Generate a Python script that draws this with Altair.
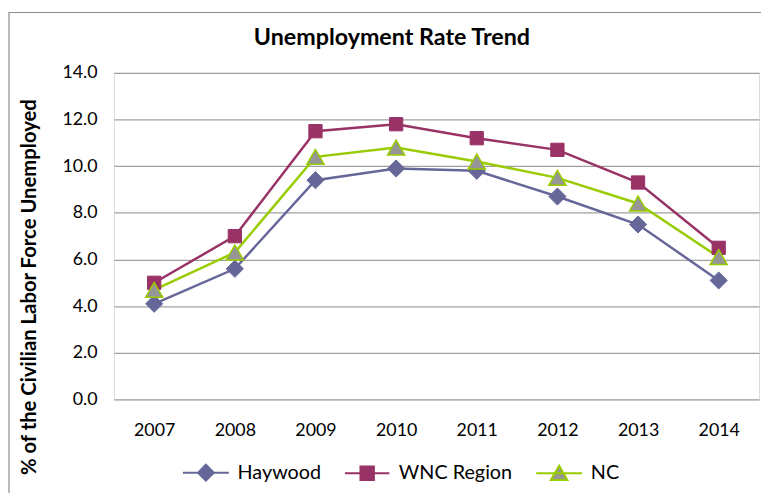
import altair as alt
import pandas as pd

years = ["2007", "2008", "2009", "2010", "2011", "2012", "2013", "2014"]
haywood = [4.1, 5.6, 9.4, 9.9, 9.8, 8.7, 7.5, 5.1]
wnc = [5.0, 7.0, 11.5, 11.8, 11.2, 10.7, 9.3, 6.5]
nc = [4.7, 6.3, 10.4, 10.8, 10.2, 9.5, 8.4, 6.1]
series_names = ["Haywood", "WNC Region", "NC"]
y_ticks = [0, 2, 4, 6, 8, 10, 12, 14]

line_colors = ["#666699", "#993366", "#99CC00"]
marker_fills = ["#666699", "#993366", "#969696"]
legend_paths = [
    "M-2.9,0H2.9M0,-1L1,0L0,1L-1,0Z",
    "M-2.8,0H2.8M-0.85,-0.85H0.85V0.85H-0.85Z",
    "M-2.9,0H2.9M0,-0.95L1.05,0.85L-1.05,0.85Z",
]

rows = []
for name, vals in zip(series_names, [haywood, wnc, nc]):
    for yr, v in zip(years, vals):
        rows.append({"year": yr, "series": name, "value": v})
df = pd.DataFrame(rows)

FONT = "Lato"

leg = alt.Legend(
    title=None, orient="none", legendX=83, legendY=394, direction="horizontal",
    labelFont=FONT, labelFontSize=20, labelColor="black", symbolSize=256,
    symbolStrokeWidth=2, symbolOpacity=1, symbolFillColor="#000000",
    labelOffset=22, columnPadding=19, padding=0,
)

x_enc = alt.X("year:O", sort=years, scale=alt.Scale(type="point", padding=0.5),
              axis=alt.Axis(labelAngle=0, domain=False, ticks=False, tickSize=0, grid=False,
                            labelPadding=22, labelFont=FONT, labelFontSize=18,
                            labelColor="black", title=None))
y_enc = alt.Y("value:Q", scale=alt.Scale(domain=[0, 14], nice=False),
              axis=alt.Axis(values=y_ticks, format=".1f", grid=True, gridColor="#a0a0a0",
                            gridWidth=1.2, domain=False, ticks=False, tickSize=0,
                            labelPadding=17, labelFont=FONT, labelFontSize=18,
                            labelColor="black",
                            title="% of the Civilian Labor Force Unemployed",
                            titleFont=FONT, titleFontSize=20.5, titleFontWeight="bold",
                            titleColor="black", titleAngle=270, titleAlign="center",
                            titleBaseline="middle", titleX=-85, titleY=216))

stroke_scale = alt.Scale(domain=series_names, range=line_colors)
fill_scale = alt.Scale(domain=series_names, range=marker_fills)
shape_scale = alt.Scale(domain=series_names, range=legend_paths)

base = alt.Chart(df)

lines = base.mark_line(strokeWidth=2.5).encode(
    x=x_enc, y=y_enc,
    stroke=alt.Stroke("series:N", scale=stroke_scale, legend=leg),
)

legend_carrier = base.mark_point(opacity=0, size=0).encode(
    x=x_enc, y=y_enc,
    stroke=alt.Stroke("series:N", scale=stroke_scale, legend=leg),
    fill=alt.Fill("series:N", scale=fill_scale, legend=leg),
    shape=alt.Shape("series:N", scale=shape_scale, legend=leg),
)

diamonds = base.mark_point(shape="diamond", filled=True, fill=marker_fills[0],
                           stroke=line_colors[0], strokeWidth=1, size=300, opacity=1).encode(
    x=x_enc, y=y_enc).transform_filter(alt.datum.series == series_names[0])
squares = base.mark_point(shape="square", filled=True, fill=marker_fills[1],
                          stroke=line_colors[1], strokeWidth=1, size=180, opacity=1).encode(
    x=x_enc, y=y_enc).transform_filter(alt.datum.series == series_names[1])
triangles = base.mark_point(shape="triangle-up", filled=True, fill=marker_fills[2],
                            stroke=line_colors[2], strokeWidth=1.5, size=300, opacity=1).encode(
    x=x_enc, y=y_enc).transform_filter(alt.datum.series == series_names[2])

frame = alt.Chart(pd.DataFrame({"a": [0]})).mark_rect(
    fill="transparent", stroke="#8c8c8c", strokeWidth=1.2).encode(
    x=alt.value(-106), x2=alt.value(700), y=alt.value(-61), y2=alt.value(480))

chart = alt.layer(frame, lines, legend_carrier, diamonds, squares, triangles).properties(
    width=652, height=330,
    title=alt.Title("Unemployment Rate Trend", font=FONT, fontSize=23.5, fontWeight="bold",
                    color="black", anchor="middle", dx=-45, offset=-38),
    autosize=alt.AutoSizeParams(type="none"),
    padding={"left": 107, "top": 63, "right": 2, "bottom": 92},
).configure_view(strokeWidth=0).configure(background="white")

chart.save("out.html", embed_options={"renderer": "svg", "actions": False})
